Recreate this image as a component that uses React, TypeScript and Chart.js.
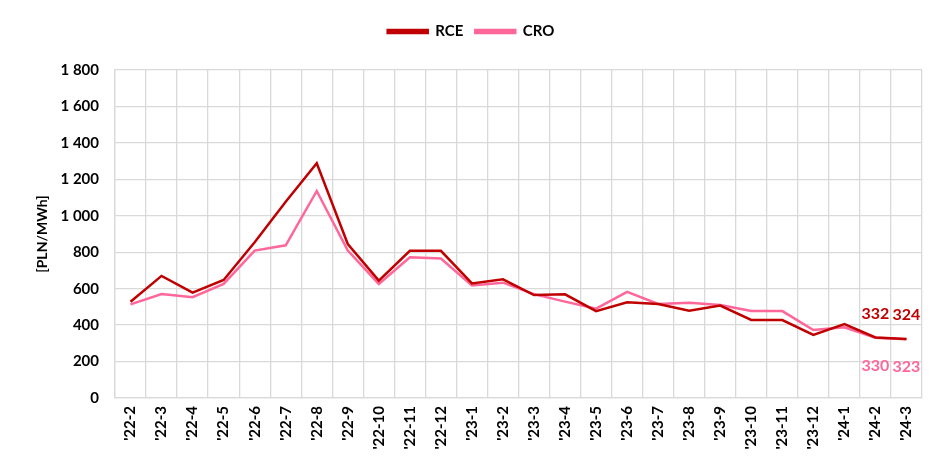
import React, { useEffect, useRef } from "react";
import { Chart, registerables } from "chart.js";

Chart.register(...registerables);

const categories = ["'22-2","'22-3","'22-4","'22-5","'22-6","'22-7","'22-8","'22-9","'22-10","'22-11","'22-12","'23-1","'23-2","'23-3","'23-4","'23-5","'23-6","'23-7","'23-8","'23-9","'23-10","'23-11","'23-12","'24-1","'24-2","'24-3"];
const rce = [528,670,578,648,855,1077,1288,845,644,808,808,629,651,565,569,477,525,516,479,507,428,428,346,406,332,324];
const cro = [514,571,553,626,809,838,1136,809,626,772,765,618,633,570,529,490,582,516,523,510,477,477,373,388,330,323];
const labeledFrom = 24;

const RCE_COLOR = "#C00000";
const CRO_COLOR = "#FF6699";
const FONT = "Lato, 'Open Sans', sans-serif";

const legendSpacer = {
  id: "legendSpacer",
  beforeInit(chart: any) {
    const lg = chart.legend;
    if (!lg) return;
    const origFit = lg.fit.bind(lg);
    lg.fit = function () {
      origFit();
      this.height += 21;
    };
  },
};

const lastLabels = {
  id: "lastLabels",
  afterDatasetsDraw(chart: any) {
    const ctx = chart.ctx;
    ctx.save();
    ctx.font = `bold 16px ${FONT}`;
    ctx.textAlign = "center";
    ctx.textBaseline = "middle";
    chart.data.datasets.forEach((ds: any, di: number) => {
      const meta = chart.getDatasetMeta(di);
      meta.data.forEach((pt: any, i: number) => {
        if (i < labeledFrom) return;
        ctx.fillStyle = ds.borderColor;
        const dy = di === 0 ? -24 : 28;
        ctx.fillText(String(ds.data[i]), pt.x, pt.y + dy);
      });
    });
    ctx.restore();
  },
};

export default function App() {
  const ref = useRef<HTMLCanvasElement>(null);
  useEffect(() => {
    document.body.style.margin = "0";
    const chart = new Chart(ref.current!, {
      type: "line",
      data: {
        labels: categories,
        datasets: [
          { label: "RCE", data: rce, borderColor: RCE_COLOR, backgroundColor: RCE_COLOR, borderWidth: 2.5, pointRadius: 0, tension: 0 },
          { label: "CRO", data: cro, borderColor: CRO_COLOR, backgroundColor: CRO_COLOR, borderWidth: 2.5, pointRadius: 0, tension: 0 },
        ],
      },
      options: {
        animation: false,
        responsive: false,
        layout: { padding: { left: 20, right: 23, top: 12, bottom: 0 } },
        plugins: {
          legend: {
            position: "top",
            labels: { boxWidth: 40, boxHeight: 3, padding: 12, color: "#000", font: { family: FONT, size: 15, weight: "bold" } },
          },
          tooltip: { enabled: false },
        },
        scales: {
          x: {
            offset: true,
            grid: { color: "#D9D9D9", lineWidth: 1.3, offset: true, drawTicks: false },
            border: { color: "#D9D9D9", width: 1.3 },
            ticks: { autoSkip: false, maxRotation: 90, minRotation: 90, padding: 8, color: "#000", font: { family: FONT, size: 15, weight: "bold" } },
            afterFit: (s: any) => { s.height = 75; },
          },
          y: {
            min: 0,
            max: 1800,
            grid: { color: "#D9D9D9", lineWidth: 1.3, drawTicks: false },
            border: { color: "#D9D9D9", width: 1.3 },
            ticks: {
              stepSize: 200,
              padding: 16,
              color: "#000",
              font: { family: FONT, size: 15, weight: "bold" },
              callback: (v: any) => String(v).replace(/\B(?=(\d{3})+(?!\d))/g, " "),
            },
            title: { display: true, text: "[PLN/MWh]", color: "#000", font: { family: FONT, size: 14, weight: "bold" }, padding: { top: 14, bottom: 0 } },
            afterFit: (s: any) => { s.width = 95; },
          },
        },
      },
      plugins: [legendSpacer, lastLabels],
    });
    return () => chart.destroy();
  }, []);
  return (
    <div style={{ position: "absolute", left: 0, top: 0, width: 945, height: 473 }}>
      <canvas ref={ref} width={945} height={473} style={{ width: 945, height: 473 }} />
    </div>
  );
}
